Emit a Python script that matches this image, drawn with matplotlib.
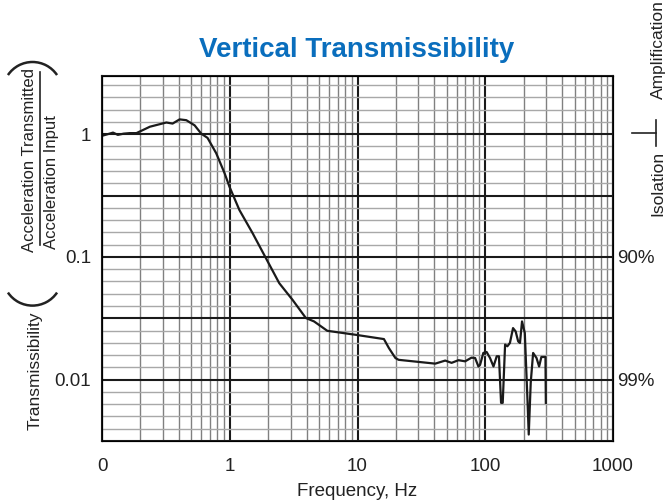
import matplotlib
matplotlib.use('Agg')
import matplotlib.pyplot as plt
from matplotlib.patches import Arc
from matplotlib.ticker import FixedLocator, FixedFormatter, LogLocator, NullLocator, NullFormatter

plt.rcParams['font.family'] = ['Liberation Sans', 'DejaVu Sans']

freq = [0.100, 0.111, 0.122, 0.133, 0.148, 0.165, 0.186, 0.237, 0.319, 0.357,
        0.405, 0.457, 0.531, 0.598, 0.670, 0.783, 0.910, 0.995, 1.19, 1.51,
        1.92, 2.44, 3.10, 3.94, 4.57, 5.80, 9.66, 16.1, 17.6, 19.8,
        21.0, 40.6, 48.6, 54.5, 61.7, 69.6, 78.0, 83.3, 88.4, 91.1,
        96.6, 102.5, 109, 116, 123, 128, 133, 137, 143, 149,
        156, 165, 173, 181, 187, 194, 204, 214, 219, 227,
        237, 252, 264, 275, 296, 298]
trans = [0.97, 1.00, 1.03, 0.987, 1.01, 1.02, 1.02, 1.15, 1.245, 1.22,
         1.32, 1.30, 1.18, 1.01, 0.933, 0.70, 0.482, 0.373, 0.241, 0.156,
         0.0976, 0.0611, 0.0447, 0.0318, 0.0298, 0.0250, 0.0232, 0.0214, 0.0181, 0.0150,
         0.0145, 0.0135, 0.0143, 0.0137, 0.0144, 0.0141, 0.0151, 0.0150, 0.0128, 0.0132,
         0.0165, 0.0168, 0.0150, 0.0128, 0.0155, 0.0155, 0.00647, 0.00647, 0.0193, 0.0187,
         0.0199, 0.0263, 0.0247, 0.0205, 0.0199, 0.0298, 0.0240, 0.00688, 0.00357, 0.00946,
         0.0165, 0.0150, 0.0128, 0.0153, 0.0153, 0.00647]

xtick_vals = [0.1, 1, 10, 100, 1000]
xtick_labels = ['0', '1', '10', '100', '1000']
ytick_vals = [1, 10 ** -0.5, 0.1, 10 ** -1.5, 0.01]
ytick_labels = ['1', '', '0.1', '', '0.01']
ytick_minor = [10 ** (k / 10) for k in range(-25, 5) if k % 5 != 0]
iso_vals = [0.1, 0.01]
iso_labels = ['90%', '99%']

W, H = 667, 501
fig = plt.figure(figsize=(W / 100, H / 100), dpi=100)
ax = fig.add_axes([102 / W, 1 - 441 / H, (613 - 102) / W, (441 - 76) / H])
ax.set_xscale('log')
ax.set_yscale('log')
ax.set_xlim(0.1, 1000)
ax.set_ylim(10 ** -2.5, 10 ** 0.474)

ax.xaxis.set_major_locator(FixedLocator(xtick_vals))
ax.xaxis.set_major_formatter(FixedFormatter(xtick_labels))
ax.xaxis.set_minor_locator(LogLocator(base=10, subs=range(2, 10)))
ax.xaxis.set_minor_formatter(NullFormatter())
ax.yaxis.set_major_locator(FixedLocator(ytick_vals))
ax.yaxis.set_major_formatter(FixedFormatter(ytick_labels))
ax.yaxis.set_minor_locator(FixedLocator(ytick_minor))
ax.yaxis.set_minor_formatter(NullFormatter())
ax.tick_params(which='both', length=0, labelsize=13.5, colors='#222222')
ax.tick_params(axis='x', pad=12)
ax.tick_params(axis='y', pad=8)

ax.grid(which='major', axis='both', color='#1a1a1a', linewidth=1.5)
ax.grid(which='minor', axis='x', color='#808080', linewidth=1.0)
ax.grid(which='minor', axis='y', color='#a8a8a8', linewidth=1.0)
ax.set_axisbelow(True)
for s in ax.spines.values():
    s.set_linewidth(1.5)
    s.set_color('#1a1a1a')

ax.plot(freq, trans, color='#1a1a1a', linewidth=1.6)
ax.set_xlabel('Frequency, Hz', fontsize=13.5, color='#222222', labelpad=6)

ax2 = ax.twinx()
ax2.set_yscale('log')
ax2.set_ylim(ax.get_ylim())
ax2.yaxis.set_major_locator(FixedLocator(iso_vals))
ax2.yaxis.set_major_formatter(FixedFormatter(iso_labels))
ax2.yaxis.set_minor_locator(NullLocator())
ax2.yaxis.set_minor_formatter(NullFormatter())
ax2.tick_params(which='both', length=0, labelsize=13.5, colors='#222222', pad=3)

fig.text(357 / W, 1 - 50 / H, 'Vertical Transmissibility', ha='center', va='center',
         fontsize=20, fontweight='bold', color='#0a6ebd')

# overlay in pixel coordinates for the axis annotations
ov = fig.add_axes([0, 0, 1, 1])
ov.set_xlim(0, W)
ov.set_ylim(H, 0)
ov.axis('off')

ov.text(35, 371, 'Transmissibility', rotation=90, ha='center', va='center',
        fontsize=12.5, color='#222222')
ov.text(30, 160, 'Acceleration Transmitted', rotation=90, ha='center', va='center',
        fontsize=12, color='#222222')
ov.text(52, 182, 'Acceleration Input', rotation=90, ha='center', va='center',
        fontsize=12, color='#222222')
ov.plot([40, 40], [72, 245], color='#222222', linewidth=1.2)
ov.add_patch(Arc((32.5, 91.6), 59.2, 59.2, theta1=214, theta2=326, color='#222222', linewidth=1.8))
ov.add_patch(Arc((32.5, 276), 59.2, 59.2, theta1=34, theta2=146, color='#222222', linewidth=1.8))

ov.text(658, 50, 'Amplification', rotation=90, ha='center', va='center',
        fontsize=12.5, color='#222222')
ov.text(658, 183, 'Isolation', rotation=90, ha='center', va='center',
        fontsize=12.5, color='#222222')
ov.plot([632, 656], [133, 133], color='#222222', linewidth=1.2)
ov.plot([656, 656], [120, 146], color='#222222', linewidth=1.2)

fig.savefig('out.png', dpi=100)
